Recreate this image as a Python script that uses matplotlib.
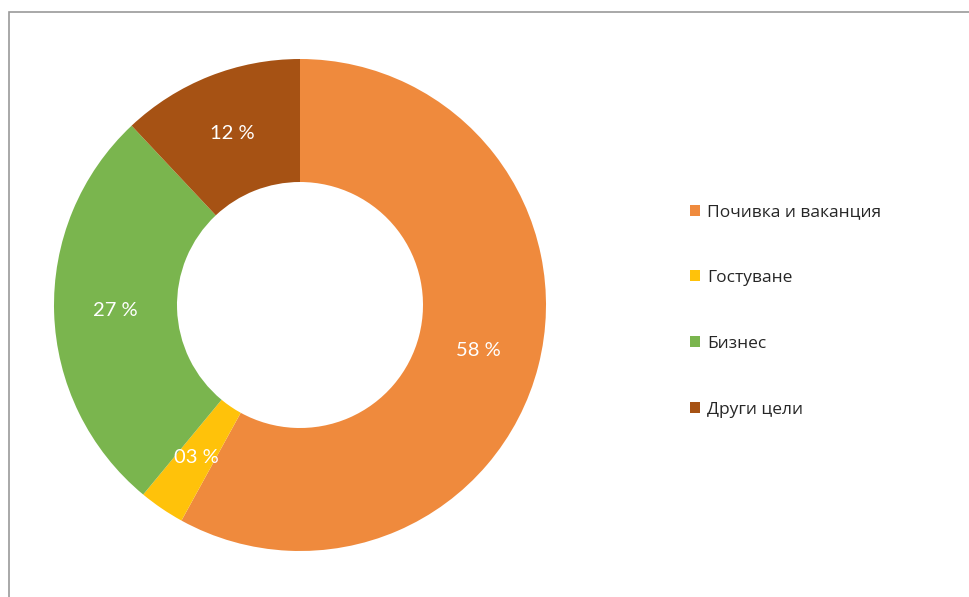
import matplotlib.pyplot as plt
from matplotlib.patches import Patch, Rectangle

categories = ['Почивка и ваканция', 'Гостуване', 'Бизнес', 'Други цели']
shares = [58, 3, 27, 12]
colors = ['#EF8A3D', '#FFC20A', '#7AB54E', '#A65214']

W, H = 969, 597
fig = plt.figure(figsize=(W / 100, H / 100), dpi=100)
fig.patch.set_facecolor('white')

# axes in pixel units, y going up
ax = fig.add_axes([0, 0, 1, 1])
ax.set_xlim(0, W)
ax.set_ylim(0, H)
ax.set_aspect('equal')
ax.axis('off')

cx, cy, r = 300, H - 305, 246
wedges, texts, autotexts = ax.pie(
    shares, colors=colors, startangle=90, counterclock=False,
    center=(cx, cy), radius=r, pctdistance=0.75,
    autopct=lambda p: '{:02d} %'.format(int(round(p))),
    wedgeprops=dict(width=r * 0.5, linewidth=0),
    textprops=dict(color='white', fontsize=14.5, family='Lato'))
ax.set_xlim(0, W)
ax.set_ylim(0, H)

handles = [Patch(facecolor=c, edgecolor='none') for c in colors]
leg = fig.legend(handles, categories, loc='center left',
                 bbox_to_anchor=(690 / W, 1 - 311 / H), frameon=False,
                 fontsize=12.5, labelspacing=2.87, handlelength=0.6,
                 handleheight=0.6, handletextpad=0.4, borderpad=0,
                 borderaxespad=0)
for t in leg.get_texts():
    t.set_color('#262626')
    t.set_family('Open Sans')

# chart frame (only top and left edges visible)
fig.patches.append(Rectangle((8.5 / W, -0.1), 1.2, (H - 11.5) / H + 0.1,
                             transform=fig.transFigure, fill=False,
                             edgecolor='#9a9a9a', linewidth=1.2))

fig.savefig('out.png', dpi=100)
